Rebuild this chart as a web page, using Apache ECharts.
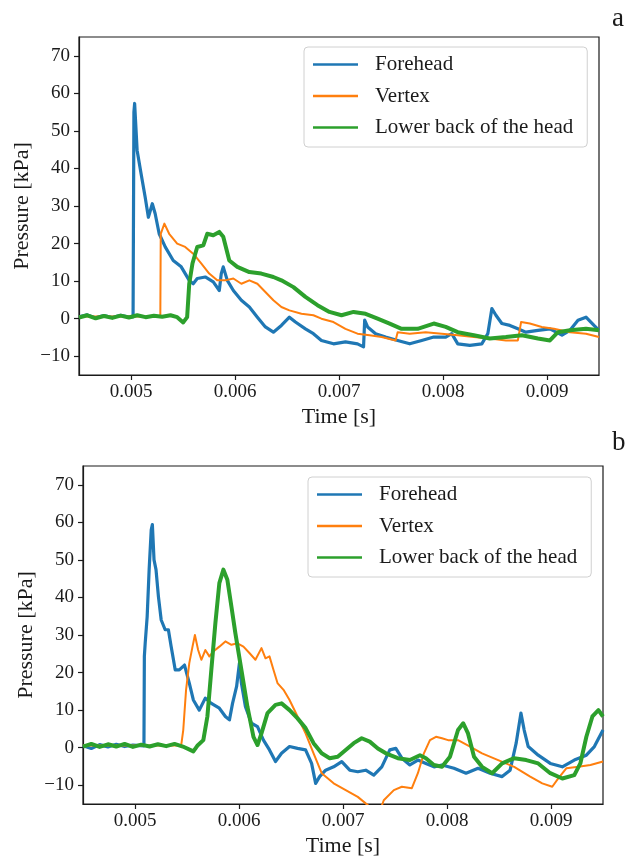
<!DOCTYPE html>
<html>
<head>
<meta charset="utf-8">
<script src="https://cdn.jsdelivr.net/npm/echarts@6/dist/echarts.min.js"></script>
<style>
html,body{margin:0;padding:0;background:#fff;}
#chart{width:630px;height:860px;}
</style>
</head>
<body>
<div id="chart"></div>
<script>
// ---- data: [time (s), pressure (kPa)] ----
const seriesNames = ['Forehead', 'Vertex', 'Lower back of the head'];
const xTicks = [0.005, 0.006, 0.007, 0.008, 0.009];
const yTicks = [-10, 0, 10, 20, 30, 40, 50, 60, 70];

// Panel a
const foreheadA = [[0.0045,0.5],[0.00458,1.0],[0.00466,0.2],[0.00474,0.8],[0.00482,0.3],[0.0049,0.9],[0.00498,0.4],[0.00502,0.5],[0.005028,55],[0.005035,57.3],[0.005059,44.8],[0.005097,38.6],[0.005136,32.4],[0.005167,27],[0.005205,30.6],[0.005232,28],[0.005271,22.6],[0.005329,19.1],[0.005406,15.5],[0.005483,13.8],[0.00556,10.2],[0.005598,9.3],[0.005637,10.7],[0.005714,11.1],[0.005791,9.8],[0.005849,7.5],[0.005868,12],[0.005887,13.8],[0.005926,10.2],[0.005984,7.5],[0.006061,4.9],[0.006138,3.1],[0.006215,0.4],[0.006292,-2.2],[0.006369,-3.6],[0.006446,-1.8],[0.006523,0.4],[0.006581,-0.9],[0.006677,-2.7],[0.006754,-4],[0.006831,-5.8],[0.006947,-6.7],[0.007062,-6.2],[0.007178,-6.7],[0.007236,-7.5],[0.007247,-0.4],[0.007275,-2.2],[0.007352,-4],[0.007448,-4.9],[0.007564,-5.8],[0.00768,-6.7],[0.007795,-5.8],[0.007911,-4.9],[0.008026,-4.9],[0.008084,-4],[0.008142,-6.7],[0.008258,-7.1],[0.008373,-6.7],[0.008431,-4],[0.00847,2.7],[0.008509,0.9],[0.008566,-1.3],[0.008643,-1.8],[0.00872,-2.7],[0.008797,-3.6],[0.008913,-3.1],[0.009028,-2.7],[0.009144,-4.4],[0.009221,-3.1],[0.009298,-0.4],[0.009375,0.4],[0.009452,-1.8],[0.0095,-3.1]];
const vertexA = [[0.0045,0.6],[0.0052,0.6],[0.005282,0.8],[0.005286,22.6],[0.005321,25.3],[0.005367,22.6],[0.005444,20],[0.005521,19.1],[0.005598,17.3],[0.005675,14.7],[0.005752,12],[0.005829,10.2],[0.005906,10.2],[0.005984,10.7],[0.006061,9.3],[0.006138,10.2],[0.006215,9.3],[0.006292,7.1],[0.006369,4.9],[0.006446,3.1],[0.006523,2.2],[0.006639,1.3],[0.006754,0.9],[0.006831,0],[0.006947,-0.9],[0.007062,-2.7],[0.007178,-4],[0.007294,-4.4],[0.00741,-4.9],[0.007544,-5.8],[0.007564,-3.6],[0.00768,-4],[0.007833,-3.6],[0.007988,-4],[0.008142,-4.4],[0.008296,-4.9],[0.00845,-5.3],[0.008605,-5.8],[0.00872,-5.8],[0.008751,-0.9],[0.008835,-1.3],[0.00895,-2.2],[0.009066,-2.7],[0.009221,-3.6],[0.009375,-4],[0.0095,-4.9]];
const lowerBackA = [[0.0045,0.3],[0.00458,0.9],[0.00466,0.1],[0.00474,0.7],[0.00482,0.2],[0.0049,0.8],[0.00498,0.3],[0.00506,0.9],[0.00514,0.4],[0.00522,0.8],[0.0053,0.5],[0.00538,0.9],[0.005444,0.4],[0.005502,-1],[0.00554,0.4],[0.00556,9.3],[0.005591,14.7],[0.005637,19.1],[0.005695,19.5],[0.005733,22.6],[0.005791,22.2],[0.005849,23.1],[0.005887,21.8],[0.005945,15.5],[0.006022,13.8],[0.006138,12.4],[0.006253,12],[0.006369,11.1],[0.006446,10.2],[0.006562,8.4],[0.006677,5.8],[0.006793,3.6],[0.006908,1.8],[0.007024,0.9],[0.00714,1.8],[0.007256,1.3],[0.007371,0],[0.007487,-1.3],[0.007602,-2.7],[0.007756,-2.7],[0.007911,-1.3],[0.008026,-2.2],[0.008142,-3.6],[0.008296,-4.4],[0.00845,-5.3],[0.008605,-4.9],[0.008759,-4.4],[0.008913,-5.3],[0.009028,-5.8],[0.009105,-3.6],[0.009221,-3.1],[0.009375,-2.7],[0.0095,-3.1]];

// Panel b
const foreheadB = [[0.0045,0.5],[0.00458,-0.2],[0.00466,0.8],[0.00474,0.2],[0.00482,0.9],[0.0049,0.3],[0.00498,0.7],[0.005086,0.5],[0.00509,24.3],[0.005098,27.8],[0.005117,34.9],[0.005136,47.4],[0.005156,58],[0.005167,59.4],[0.005183,50],[0.005202,47.4],[0.005225,40.3],[0.005252,34],[0.00529,31.4],[0.005321,31.4],[0.005348,26.9],[0.005387,20.7],[0.005426,20.7],[0.005476,22],[0.005522,17.2],[0.005561,12.7],[0.005618,10],[0.005676,13.2],[0.005734,11.8],[0.005811,10.5],[0.005869,8.3],[0.005908,7.4],[0.005938,11.8],[0.005977,16.3],[0.006004,22.5],[0.006023,17.2],[0.006062,10.9],[0.00612,6.5],[0.006178,5.6],[0.006235,2],[0.006293,-0.6],[0.006351,-3.7],[0.006409,-1.5],[0.006486,0.3],[0.006563,-0.2],[0.00664,-0.6],[0.006698,-4.2],[0.006737,-9.5],[0.006775,-7.7],[0.006833,-6],[0.00691,-5.1],[0.006988,-3.7],[0.007065,-6],[0.007142,-6.4],[0.007219,-6],[0.007296,-7.3],[0.007373,-5.1],[0.00745,-0.6],[0.007508,-0.2],[0.007566,-2.8],[0.007643,-4.6],[0.00772,-3.3],[0.007797,-4.2],[0.007875,-5.1],[0.007952,-4.6],[0.008067,-5.5],[0.008183,-6.8],[0.008299,-5.5],[0.008414,-6.8],[0.00853,-7.7],[0.008607,-6],[0.008665,1.2],[0.008711,9.2],[0.008742,4.7],[0.008781,0.3],[0.008877,-2],[0.008993,-4.2],[0.009109,-5.1],[0.009224,-3.3],[0.00934,-2],[0.009417,0.3],[0.0095,4.7]];
const vertexB = [[0.0045,0.6],[0.0054,0.6],[0.005445,0.8],[0.005464,4.7],[0.005491,15.4],[0.005522,22.5],[0.005553,26.9],[0.005576,30],[0.005607,26],[0.005638,23.4],[0.005676,26],[0.005715,24.3],[0.005753,25.6],[0.005811,26.9],[0.005869,28.3],[0.005927,27.4],[0.005985,27.8],[0.006043,26.9],[0.0061,25.2],[0.006158,23.4],[0.006216,26.5],[0.006255,23.8],[0.006293,24.3],[0.006332,20.7],[0.00637,17.2],[0.006428,15.4],[0.006486,12.7],[0.006563,8.3],[0.00664,3.8],[0.006717,-1.5],[0.006795,-6.8],[0.00691,-9.5],[0.007026,-11.3],[0.007142,-13.1],[0.007238,-15.3],[0.007335,-18.4],[0.007392,-14],[0.007489,-11.3],[0.007566,-10.4],[0.007662,-10.8],[0.00772,-6.8],[0.007778,-1.5],[0.007836,2],[0.007894,2.9],[0.007952,2.5],[0.00801,2],[0.008106,2],[0.008222,0.3],[0.008337,-1.5],[0.008492,-3.3],[0.008646,-5.1],[0.0088,-7.7],[0.008916,-9.5],[0.009012,-10.4],[0.00907,-8.2],[0.009147,-5.5],[0.009263,-5.1],[0.009379,-4.6],[0.0095,-3.7]];
const lowerBackB = [[0.0045,0.3],[0.00458,1],[0.00466,0.2],[0.00474,0.9],[0.00482,0.3],[0.0049,1],[0.00498,0.2],[0.00506,0.8],[0.00514,0.3],[0.00522,0.9],[0.0053,0.4],[0.00538,1],[0.00546,0.3],[0.005561,-1],[0.005599,0.5],[0.005657,2],[0.005696,8.3],[0.005734,20.7],[0.005773,33.2],[0.005811,43.8],[0.00585,47.4],[0.005888,44.7],[0.005927,37.6],[0.005965,30.5],[0.006023,20.7],[0.006081,10.9],[0.006139,2.9],[0.006178,0.7],[0.006216,3.8],[0.006274,9.2],[0.006351,11.4],[0.006409,11.8],[0.006486,10],[0.006563,7.8],[0.00664,5.2],[0.006717,1.2],[0.006795,-1.5],[0.006872,-2.8],[0.006949,-2.4],[0.007026,-0.6],[0.007103,1.2],[0.00718,2.5],[0.007257,1.6],[0.007335,-0.2],[0.007412,-1.5],[0.007527,-2.8],[0.007643,-3.3],[0.00774,-2],[0.007797,-2.8],[0.007874,-4.6],[0.007952,-5.1],[0.008029,-2.4],[0.008106,4.7],[0.008156,6.5],[0.008202,3.8],[0.00826,-2.4],[0.008337,-5.1],[0.008434,-6.8],[0.00853,-4.2],[0.008646,-2.8],[0.008762,-3.3],[0.008877,-4.2],[0.008993,-6.8],[0.009109,-8.2],[0.009224,-7.3],[0.009282,-4.2],[0.00934,2.9],[0.009398,8.3],[0.009456,10],[0.0095,8.3]];

// ---- chart ----
const FONT = 'Liberation Serif';
const INK = '#1a1a1a';
const COLORS = ['#1f77b4', '#ff7f0e', '#2ca02c'];
const WIDTHS = [3.2, 2, 4];

function xAxisFor(gi) {
  return {
    gridIndex: gi, type: 'value', min: 0.0045, max: 0.0095,
    name: 'Time [s]', nameLocation: 'middle', nameGap: 31,
    nameTextStyle: {fontFamily: FONT, fontSize: 22, color: INK},
    axisLine: {show: true, onZero: false, lineStyle: {color: INK, width: 1.2}},
    axisTick: {show: true, length: 5, lineStyle: {color: INK, width: 1.2}, customValues: xTicks},
    axisLabel: {fontFamily: FONT, fontSize: 19, color: INK, margin: 8, customValues: xTicks,
      formatter: v => v.toFixed(3)},
    splitLine: {show: false}
  };
}
function yAxisFor(gi) {
  return {
    gridIndex: gi, type: 'value', min: -15, max: 75,
    name: 'Pressure [kPa]', nameLocation: 'middle', nameGap: 46, nameRotate: 90,
    nameMoveOverlap: false,
    nameTextStyle: {fontFamily: FONT, fontSize: 22, color: INK},
    axisLine: {show: true, lineStyle: {color: INK, width: 1.2}},
    axisTick: {show: true, length: 5, lineStyle: {color: INK, width: 1.2}, customValues: yTicks},
    axisLabel: {fontFamily: FONT, fontSize: 19, color: INK, margin: 9, customValues: yTicks,
      formatter: v => (v < 0 ? '\u2212' + Math.abs(v) : String(v))},
    splitLine: {show: false}
  };
}
function legendFor(left, top) {
  return {
    data: seriesNames, orient: 'vertical', left: left, top: top,
    icon: 'rect', itemWidth: 45, itemHeight: 2.4, itemGap: 10.5,
    padding: [7, 14, 9, 9],
    backgroundColor: '#fff', borderColor: '#d0d0d0', borderWidth: 1, borderRadius: 4,
    textStyle: {fontFamily: FONT, fontSize: 21, color: INK, lineHeight: 21, padding: [0, 0, 0, 12]},
    selectedMode: false
  };
}
function lineSeries(name, data, k, gi) {
  return {
    name: name, type: 'line', data: data, xAxisIndex: gi, yAxisIndex: gi,
    showSymbol: false, symbol: 'none', clip: true,
    lineStyle: {color: COLORS[k], width: WIDTHS[k], join: 'round'},
    itemStyle: {color: COLORS[k]},
    emphasis: {disabled: true}
  };
}

const chart = echarts.init(document.getElementById('chart'), null, {renderer: 'canvas'});
chart.setOption({
  animation: false,
  backgroundColor: '#fff',
  title: [
    {text: 'a', left: 607, top: 0, textStyle: {fontFamily: FONT, fontSize: 27, fontWeight: 'normal', color: INK}},
    {text: 'b', left: 607, top: 424, textStyle: {fontFamily: FONT, fontSize: 27, fontWeight: 'normal', color: INK}}
  ],
  grid: [
    {left: 79, top: 37, width: 520, height: 338, show: true, borderColor: INK, borderWidth: 1.2, backgroundColor: 'transparent'},
    {left: 83, top: 466, width: 520, height: 338, show: true, borderColor: INK, borderWidth: 1.2, backgroundColor: 'transparent'}
  ],
  xAxis: [xAxisFor(0), xAxisFor(1)],
  yAxis: [yAxisFor(0), yAxisFor(1)],
  legend: [legendFor(304, 47), legendFor(308, 477)],
  series: [
    lineSeries(seriesNames[0], foreheadA, 0, 0),
    lineSeries(seriesNames[1], vertexA, 1, 0),
    lineSeries(seriesNames[2], lowerBackA, 2, 0),
    lineSeries(seriesNames[0], foreheadB, 0, 1),
    lineSeries(seriesNames[1], vertexB, 1, 1),
    lineSeries(seriesNames[2], lowerBackB, 2, 1)
  ]
});
</script>
</body>
</html>
